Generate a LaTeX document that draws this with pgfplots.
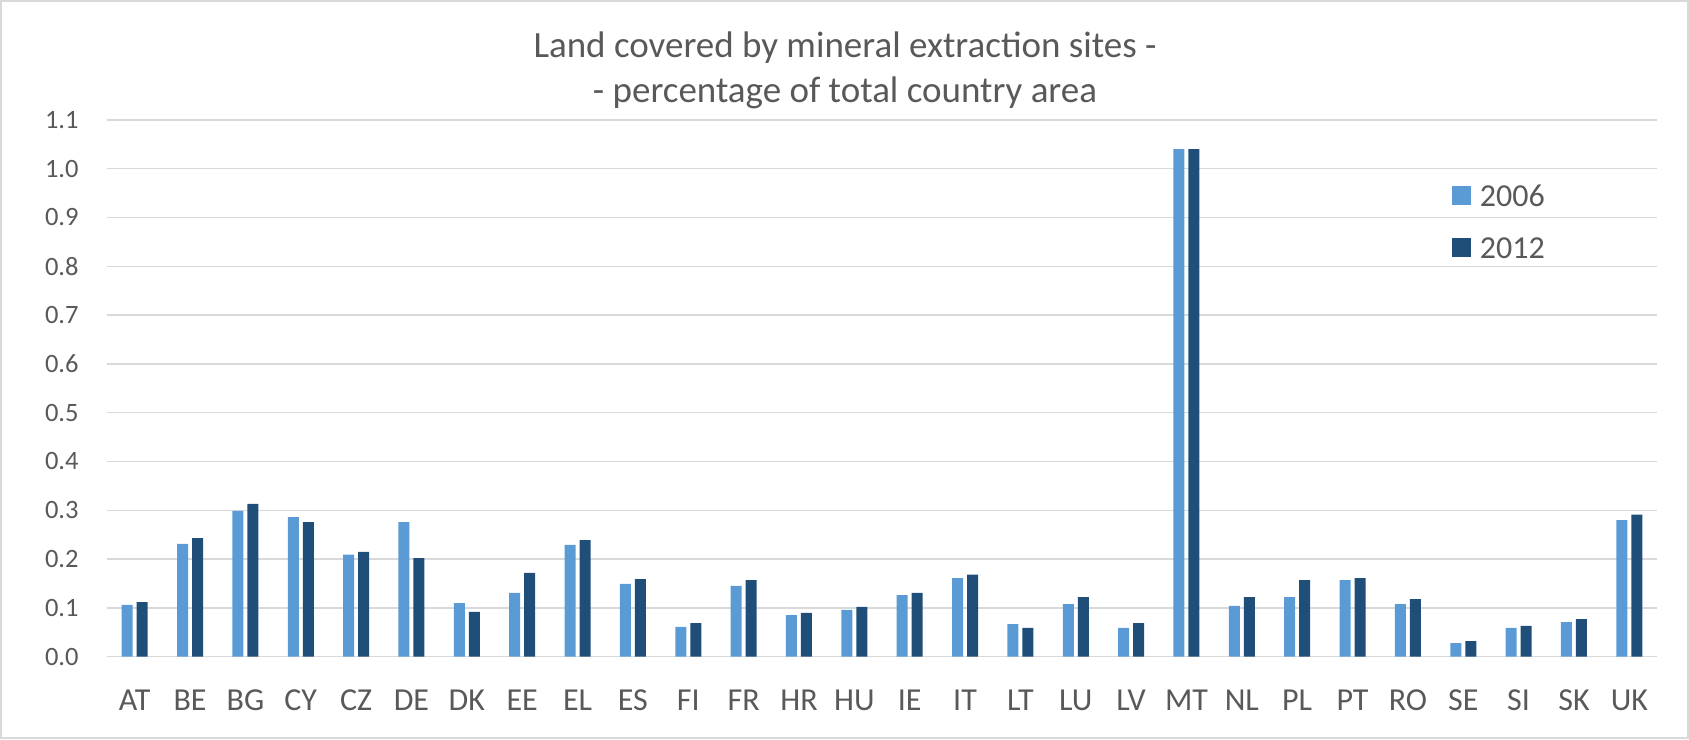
\documentclass[border=0pt]{standalone}
\usepackage{pgfplots}
\usepackage{pgfplotstable}
\pgfplotsset{compat=1.18}
\usepackage{fontspec}
\setmainfont{Carlito}
\definecolor{c06}{HTML}{5B9BD5}
\definecolor{c12}{HTML}{1F4E79}
\definecolor{gridc}{HTML}{D9D9D9}
\definecolor{txt}{HTML}{595959}

\pgfplotstableread{
idx cc y06 y12
0 AT 0.106 0.112
1 BE 0.231 0.243
2 BG 0.299 0.313
3 CY 0.286 0.276
4 CZ 0.209 0.215
5 DE 0.276 0.202
6 DK 0.110 0.092
7 EE 0.131 0.172
8 EL 0.229 0.239
9 ES 0.149 0.159
10 FI 0.061 0.069
11 FR 0.145 0.157
12 HR 0.085 0.090
13 HU 0.096 0.102
14 IE 0.126 0.131
15 IT 0.161 0.168
16 LT 0.067 0.059
17 LU 0.108 0.122
18 LV 0.059 0.069
19 MT 1.040 1.040
20 NL 0.104 0.122
21 PL 0.122 0.157
22 PT 0.157 0.161
23 RO 0.108 0.118
24 SE 0.028 0.032
25 SI 0.059 0.063
26 SK 0.071 0.077
27 UK 0.280 0.291
}\datatable

\begin{document}
\begin{tikzpicture}
\useasboundingbox (-53.5pt,-41.15pt) rectangle (791pt,328.35pt);
\draw[gridc, line width=1pt] (-53pt,-40.65pt) rectangle (790.5pt,327.85pt);
\begin{axis}[
  scale only axis,
  width=775pt, height=268.4pt,
  xmin=-0.5, xmax=27.5, ymin=0, ymax=1.1,
  ybar=2pt, bar width=5.5pt,
  xtick={0,...,27},
  xticklabels={AT,BE,BG,CY,CZ,DE,DK,EE,EL,ES,FI,FR,HR,HU,IE,IT,LT,LU,LV,MT,NL,PL,PT,RO,SE,SI,SK,UK},
  ytick={0,0.1,0.2,0.3,0.4,0.5,0.6,0.7,0.8,0.9,1.0,1.1},
  yticklabel style={/pgf/number format/fixed, /pgf/number format/fixed zerofill, /pgf/number format/precision=1, /pgf/number format/assume math mode=true},
  ymajorgrids,
  grid style={gridc, line width=0.75pt},
  axis line style={draw=none},
  major tick length=0pt,
  tick label style={text=txt},
  yticklabel style={font=\fontsize{13.25}{16}\selectfont, inner sep=0pt, anchor=east, xshift=-14pt},
  xticklabel style={font=\fontsize{16}{19}\selectfont, inner sep=0pt, anchor=center, yshift=-21.7pt},
  legend style={draw=none, fill=none, at={(0.8677,0.879)}, anchor=north west,
    inner sep=0pt, outer sep=0pt, font=\fontsize{16}{19}\selectfont, text=txt,
    row sep=13.9pt, nodes={inner sep=0pt},
    /tikz/every odd column/.append style={column sep=4.5pt}},
  legend cell align=left,
]
\addplot[fill=c06, draw=none, legend image code/.code={\fill[c06] (0pt,-4.1pt) rectangle (9.5pt,5.4pt);}] table[x=idx, y=y06] {\datatable};
\addplot[fill=c12, draw=none, legend image code/.code={\fill[c12] (0pt,-4.1pt) rectangle (9.5pt,5.4pt);}] table[x=idx, y=y12] {\datatable};
\legend{2006,2012}
\end{axis}
\node[font=\fontsize{18.5}{22.5}\selectfont, text=txt, align=center] at (369pt,293.1pt) {Land covered by mineral extraction sites -\\- percentage of total country area};
\end{tikzpicture}
\end{document}
